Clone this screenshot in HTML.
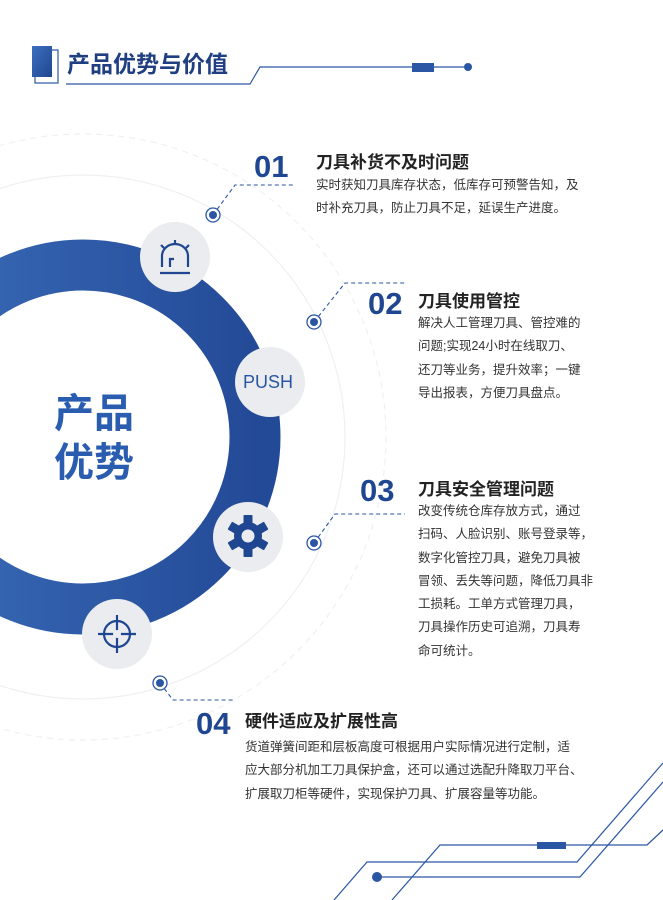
<!DOCTYPE html>
<html><head><meta charset="utf-8"><style>
html,body{margin:0;padding:0;background:#fff;}
body{width:663px;height:900px;position:relative;overflow:hidden;font-family:"Liberation Sans","Noto Sans CJK SC",sans-serif;}
.t{position:absolute;white-space:nowrap;}
.num{font-weight:bold;font-size:31px;color:#1f4690;line-height:30px;font-family:"Liberation Sans","Noto Sans CJK SC",sans-serif;}
.h{font-size:17px;font-weight:bold;color:#222;line-height:20px;}
.b{font-size:12.5px;color:#333;line-height:23.3px;}
</style></head><body>
<svg width="663" height="900" style="position:absolute;left:0;top:0">
<defs>
<linearGradient id="rg" x1="0" x2="1" y1="0" y2="0">
<stop offset="0" stop-color="#3a6cb8"/><stop offset="1" stop-color="#234a97"/></linearGradient>
<linearGradient id="hg" x1="0" x2="1" y1="0" y2="1">
<stop offset="0" stop-color="#3c6fc0"/><stop offset="1" stop-color="#1f4690"/></linearGradient>
</defs>
<rect x="35" y="50" width="23" height="33" fill="none" stroke="#2a56a3" stroke-width="1.2"/>
<rect x="32" y="46" width="20" height="31" fill="url(#hg)"/>
<polyline points="66,84 250,84 260,67 467,67" fill="none" stroke="#2a56a3" stroke-width="1.2"/>
<rect x="412" y="63" width="22" height="9" fill="#2a56a3"/>
<circle cx="468" cy="67" r="4" fill="#2a56a3"/>
<circle cx="83" cy="437" r="262" fill="none" stroke="#eef0f3" stroke-width="1.2"/>
<circle cx="83" cy="437" r="303" fill="none" stroke="#eef0f3" stroke-width="1.2" stroke-dasharray="6 5"/>
<circle cx="83" cy="437" r="172" fill="none" stroke="url(#rg)" stroke-width="51"/>
<circle cx="175" cy="257" r="35" fill="#eaecef"/>
<circle cx="270" cy="382" r="35" fill="#eaecef"/>
<circle cx="248" cy="537" r="35" fill="#eaecef"/>
<circle cx="117" cy="634" r="35" fill="#eaecef"/>
<g stroke="#1f4690" stroke-width="2.2" fill="none">
<path d="M162 267 V256 a13 12 0 0 1 26 0 V267"/>
<path d="M170 267 V259 H174"/>
<line x1="160" y1="273" x2="190" y2="273"/>
<line x1="175" y1="240" x2="175" y2="244"/>
<line x1="161" y1="245" x2="164" y2="248"/>
<line x1="189" y1="245" x2="186" y2="248"/>
</g>
<g fill="#1f4690">
<circle cx="248" cy="536" r="14"/>
<g transform="translate(248,536)">
<rect x="-4.5" y="-21" width="9" height="42" rx="1"/>
<rect x="-4.5" y="-21" width="9" height="42" rx="1" transform="rotate(60)"/>
<rect x="-4.5" y="-21" width="9" height="42" rx="1" transform="rotate(120)"/>
</g>
<circle cx="248" cy="536" r="6.5" fill="#eaecef"/>
</g>
<g stroke="#1f4690" stroke-width="2.2" fill="none">
<circle cx="117" cy="634" r="13"/>
<line x1="98" y1="634" x2="136" y2="634"/>
<line x1="117" y1="615" x2="117" y2="653"/>
</g>
<circle cx="117" cy="634" r="4" fill="#eaecef"/>
<g stroke="#2a56a3" stroke-width="1.1" fill="none" stroke-dasharray="4 3">
<polyline points="213,215 235,185 295,185"/>
<polyline points="314,322 345,283 405,283"/>
<polyline points="314,543 335,514 405,514"/>
<polyline points="160,683 173,700 233,700"/>
</g>
<g>
<circle cx="213" cy="215" r="7" fill="#fff" stroke="#2a56a3" stroke-width="1.3"/><circle cx="213" cy="215" r="4" fill="#2a56a3"/>
<circle cx="314" cy="322" r="7" fill="#fff" stroke="#2a56a3" stroke-width="1.3"/><circle cx="314" cy="322" r="4" fill="#2a56a3"/>
<circle cx="314" cy="543" r="7" fill="#fff" stroke="#2a56a3" stroke-width="1.3"/><circle cx="314" cy="543" r="4" fill="#2a56a3"/>
<circle cx="160" cy="683" r="7" fill="#fff" stroke="#2a56a3" stroke-width="1.3"/><circle cx="160" cy="683" r="4" fill="#2a56a3"/>
</g>
<g stroke="#2a56a3" stroke-width="1.2" fill="none">
<polyline points="392,900 440,845 647,845 663,830"/>
<polyline points="334,900 367,862 577,862 663,763"/>
<polyline points="377,877 580,877 663,782"/>
</g>
<rect x="537" y="842" width="29" height="7" fill="#2a56a3"/>
<circle cx="377" cy="877" r="5" fill="#2a56a3"/>
</svg>
<div class="t" style="left:67px;top:48px;font-size:23px;font-weight:bold;color:#1f3f80;line-height:32px;">产品优势与价值</div>
<div class="t" style="left:54px;top:390px;font-size:40px;font-weight:bold;color:#2a5db0;line-height:49px;">产品<br>优势</div>
<div class="t" style="left:243px;top:371px;font-size:18px;color:#2a56a3;line-height:22px;">PUSH</div>

<div class="t num" style="left:254px;top:152px;">01</div>
<div class="t h" style="left:316px;top:153px;">刀具补货不及时问题</div>
<div class="t b" style="left:316px;top:174px;">实时获知刀具库存状态，低库存可预警告知，及<br>时补充刀具，防止刀具不足，延误生产进度。</div>

<div class="t num" style="left:368px;top:289px;">02</div>
<div class="t h" style="left:418px;top:292px;">刀具使用管控</div>
<div class="t b" style="left:418px;top:312px;">解决人工管理刀具、管控难的<br>问题;实现24小时在线取刀、<br>还刀等业务，提升效率；一键<br>导出报表，方便刀具盘点。</div>

<div class="t num" style="left:360px;top:476px;">03</div>
<div class="t h" style="left:418px;top:480px;">刀具安全管理问题</div>
<div class="t b" style="left:418px;top:500px;">改变传统仓库存放方式，通过<br>扫码、人脸识别、账号登录等，<br>数字化管控刀具，避免刀具被<br>冒领、丢失等问题，降低刀具非<br>工损耗。工单方式管理刀具，<br>刀具操作历史可追溯，刀具寿<br>命可统计。</div>

<div class="t num" style="left:196px;top:709px;">04</div>
<div class="t h" style="left:245px;top:712px;">硬件适应及扩展性高</div>
<div class="t b" style="left:245px;top:736px;">货道弹簧间距和层板高度可根据用户实际情况进行定制，适<br>应大部分机加工刀具保护盒，还可以通过选配升降取刀平台、<br>扩展取刀柜等硬件，实现保护刀具、扩展容量等功能。</div>
</body></html>
